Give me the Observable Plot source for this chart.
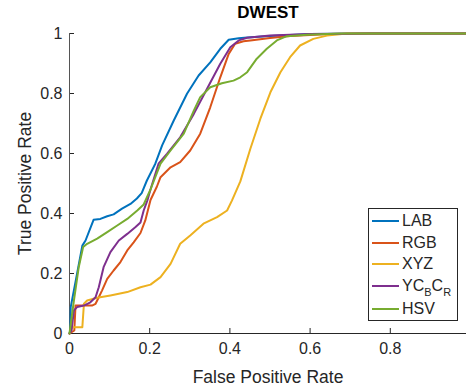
<!DOCTYPE html>
<html><head><meta charset="utf-8">
<script src="https://cdn.jsdelivr.net/npm/d3@7"></script>
<script src="https://cdn.jsdelivr.net/npm/@observablehq/plot@0.6"></script>
<style>
body{margin:0;background:#fff;font-family:"Liberation Sans",Arial,sans-serif;}
#wrap{position:relative;width:466px;height:389px;}
#legend{position:absolute;left:368px;top:208px;width:88px;height:111px;border:1px solid #262626;background:#fff;color:#262626;font-size:16px;}
.row{position:absolute;left:3px;height:20px;display:flex;align-items:center;}
.sw{width:27px;height:2px;margin-right:3px;}
sub{font-size:11px;vertical-align:-5px;line-height:0;}
</style>
</head><body>
<div id="wrap"></div>
<script>
const series = ["LAB","RGB","XYZ","YCbCr","HSV"];
const colors = ["#0072BD","#D95319","#EDB120","#7E2F8E","#77AC30"];
const xTicks = [0,0.2,0.4,0.6,0.8];
const yTicks = [0,0.2,0.4,0.6,0.8,1];

const LAB_x = [0,0.002,0.003,0.019,0.032,0.04,0.06,0.077,0.094,0.11,0.131,0.152,0.168,0.18,0.193,0.214,0.231,0.26,0.293,0.322,0.351,0.376,0.397,0.422,0.443,0.5,0.6,0.75,0.99];
const LAB_y = [0,0.01,0.088,0.2,0.293,0.31,0.379,0.382,0.391,0.397,0.416,0.432,0.45,0.468,0.51,0.566,0.627,0.71,0.799,0.86,0.904,0.949,0.979,0.984,0.987,0.992,0.998,1,1];

const RGB_x = [0,0.012,0.015,0.04,0.056,0.065,0.073,0.081,0.094,0.11,0.127,0.144,0.16,0.177,0.189,0.202,0.218,0.227,0.252,0.276,0.301,0.326,0.351,0.376,0.397,0.413,0.434,0.451,0.5,0.55,0.65,0.75,0.99];
const RGB_y = [0,0.01,0.093,0.093,0.093,0.099,0.121,0.143,0.182,0.21,0.238,0.277,0.304,0.335,0.377,0.445,0.49,0.521,0.554,0.571,0.61,0.666,0.754,0.854,0.932,0.966,0.974,0.977,0.985,0.992,0.998,1,1];

const XYZ_x = [0,0.007,0.032,0.036,0.044,0.069,0.102,0.144,0.177,0.202,0.227,0.252,0.276,0.301,0.334,0.368,0.393,0.405,0.426,0.451,0.476,0.501,0.526,0.55,0.575,0.608,0.642,0.692,0.99];
const XYZ_y = [0,0.021,0.021,0.099,0.11,0.119,0.127,0.138,0.154,0.163,0.188,0.232,0.299,0.327,0.366,0.388,0.41,0.443,0.507,0.616,0.716,0.804,0.871,0.921,0.96,0.982,0.993,1,1];

const YCbCr_x = [0,0.005,0.011,0.019,0.036,0.052,0.065,0.073,0.085,0.102,0.123,0.144,0.164,0.177,0.185,0.194,0.202,0.222,0.243,0.276,0.31,0.343,0.376,0.401,0.422,0.443,0.5,0.6,0.75,0.99];
const YCbCr_y = [0,0.01,0.077,0.088,0.093,0.104,0.121,0.154,0.221,0.271,0.31,0.332,0.354,0.37,0.41,0.443,0.48,0.566,0.599,0.654,0.732,0.816,0.899,0.954,0.977,0.986,0.993,0.998,1,1];

const HSV_x = [0,0.011,0.023,0.034,0.044,0.069,0.094,0.119,0.144,0.169,0.185,0.202,0.227,0.252,0.285,0.31,0.326,0.351,0.38,0.409,0.426,0.443,0.467,0.492,0.517,0.542,0.592,0.675,0.99];
const HSV_y = [0,0.11,0.221,0.288,0.299,0.316,0.338,0.36,0.382,0.41,0.43,0.48,0.566,0.61,0.666,0.743,0.788,0.821,0.834,0.843,0.854,0.871,0.916,0.949,0.977,0.991,0.996,1,1];

const xs = {LAB:LAB_x, RGB:RGB_x, XYZ:XYZ_x, YCbCr:YCbCr_x, HSV:HSV_x};
const ys = {LAB:LAB_y, RGB:RGB_y, XYZ:XYZ_y, YCbCr:YCbCr_y, HSV:HSV_y};
const rows = [];
for (const s of series) xs[s].forEach((x,i)=>rows.push({series:s, fpr:x, tpr:ys[s][i]}));

const ink = "#262626";
const chart = Plot.plot({
  width:466, height:389,
  marginLeft:69, marginRight:0, marginTop:33, marginBottom:56,
  x:{domain:[0,0.99]},
  y:{domain:[0,1]},
  color:{domain:series, range:colors},
  style:{fontFamily:"'Liberation Sans', Arial, sans-serif", fontSize:"16px", color:ink, background:"#fff"},
  marks:[
    Plot.axisX({ticks:xTicks, tickFormat:d=>String(d), tickSize:-5, tickPadding:14, label:null, stroke:ink, fill:"#262626"}),
    Plot.axisY({ticks:yTicks, tickFormat:d=>String(d), tickSize:-5, tickPadding:12, label:null, stroke:ink, fill:"#262626"}),
    Plot.ruleY([0], {stroke:ink}),
    Plot.ruleX([0], {stroke:"#555"}),
    Plot.line(rows, {x:"fpr", y:"tpr", z:"series", stroke:"series", strokeWidth:2, curve:"linear"}),
    Plot.text(["DWEST"], {frameAnchor:"top", dy:-21, lineAnchor:"middle", textAnchor:"middle", fontWeight:"bold", fontSize:17, fill:"#000"}),
    Plot.text(["False Positive Rate"], {frameAnchor:"bottom", dy:44, lineAnchor:"middle", textAnchor:"middle", fontSize:17.5, fill:ink}),
    Plot.text(["True Positive Rate"], {frameAnchor:"left", dx:-44, lineAnchor:"middle", textAnchor:"middle", rotate:-90, fontSize:17.5, fill:ink})
  ]
});
const wrap = document.getElementById("wrap");
wrap.appendChild(chart);

const labels = {LAB:"LAB", RGB:"RGB", XYZ:"XYZ", YCbCr:"YC<sub>B</sub>C<sub>R</sub>", HSV:"HSV"};
const tops = [2, 23.5, 45, 67, 90];
const leg = document.createElement("div");
leg.id = "legend";
series.forEach((s,i)=>{
  const r = document.createElement("div");
  r.className = "row";
  r.style.top = tops[i] + "px";
  r.innerHTML = `<span class="sw" style="background:${colors[i]}"></span><span>${labels[s]}</span>`;
  leg.appendChild(r);
});
wrap.appendChild(leg);
</script>
</body></html>
